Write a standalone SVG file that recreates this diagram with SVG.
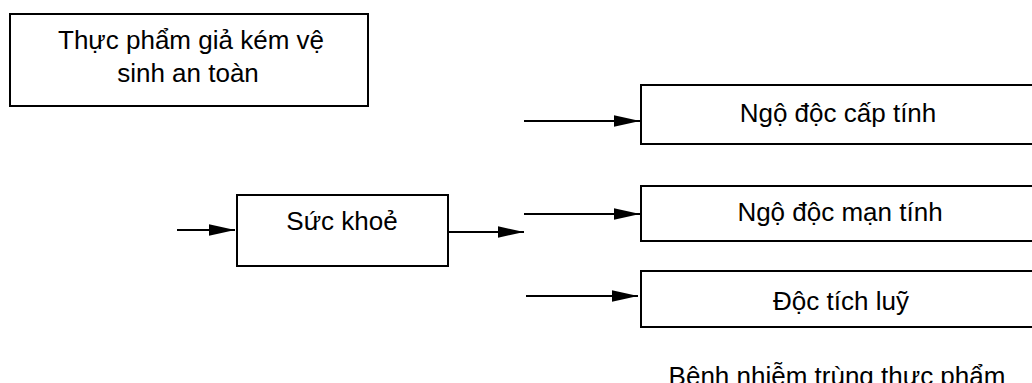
<svg xmlns="http://www.w3.org/2000/svg" width="1032" height="383" viewBox="0 0 1032 383">
<style>
.box{fill:#fff;stroke:#000;stroke-width:2}
.lbl{font-family:"Liberation Sans",Arial,sans-serif;font-size:26px;fill:#000;text-anchor:middle}
.conn{stroke:#000;stroke-width:2;fill:none;marker-end:url(#ah)}
</style>
<defs>
<marker id="ah" markerUnits="userSpaceOnUse" markerWidth="27" markerHeight="12" refX="26" refY="6" orient="auto" viewBox="0 0 27 12">
<path d="M0,0.3 L26,6 L0,11.7 z" fill="#000"/>
</marker>
</defs>
<rect width="1032" height="383" fill="#fff"/>
<g id="n-thucpham">
<rect class="box" x="10" y="14" width="358" height="92"/>
<text class="lbl" x="191" y="49">Thực phẩm giả kém vệ</text>
<text class="lbl" x="188" y="82">sinh an toàn</text>
</g>
<g id="n-suckhoe">
<rect class="box" x="237" y="195" width="211" height="71"/>
<text class="lbl" x="342" y="230">Sức khoẻ</text>
</g>
<g id="n-capt">
<rect class="box" x="641" y="85" width="420" height="59"/>
<text class="lbl" x="838" y="122">Ngộ độc cấp tính</text>
</g>
<g id="n-mant">
<rect class="box" x="641" y="186" width="420" height="55"/>
<text class="lbl" x="840" y="221">Ngộ độc mạn tính</text>
</g>
<g id="n-tichluy">
<rect class="box" x="641" y="271" width="420" height="56"/>
<text class="lbl" x="841" y="310">Độc tích luỹ</text>
</g>
<g id="n-benh">
<text class="lbl" x="837" y="385">Bệnh nhiễm trùng thực phẩm</text>
</g>
<g id="connectors">
<line class="conn" x1="177" y1="230" x2="235" y2="230"/>
<line class="conn" x1="448" y1="232" x2="524" y2="232"/>
<line class="conn" x1="524" y1="121" x2="640" y2="121"/>
<line class="conn" x1="524" y1="214" x2="640" y2="214"/>
<line class="conn" x1="526" y1="296" x2="638" y2="296"/>
</g>
</svg>
